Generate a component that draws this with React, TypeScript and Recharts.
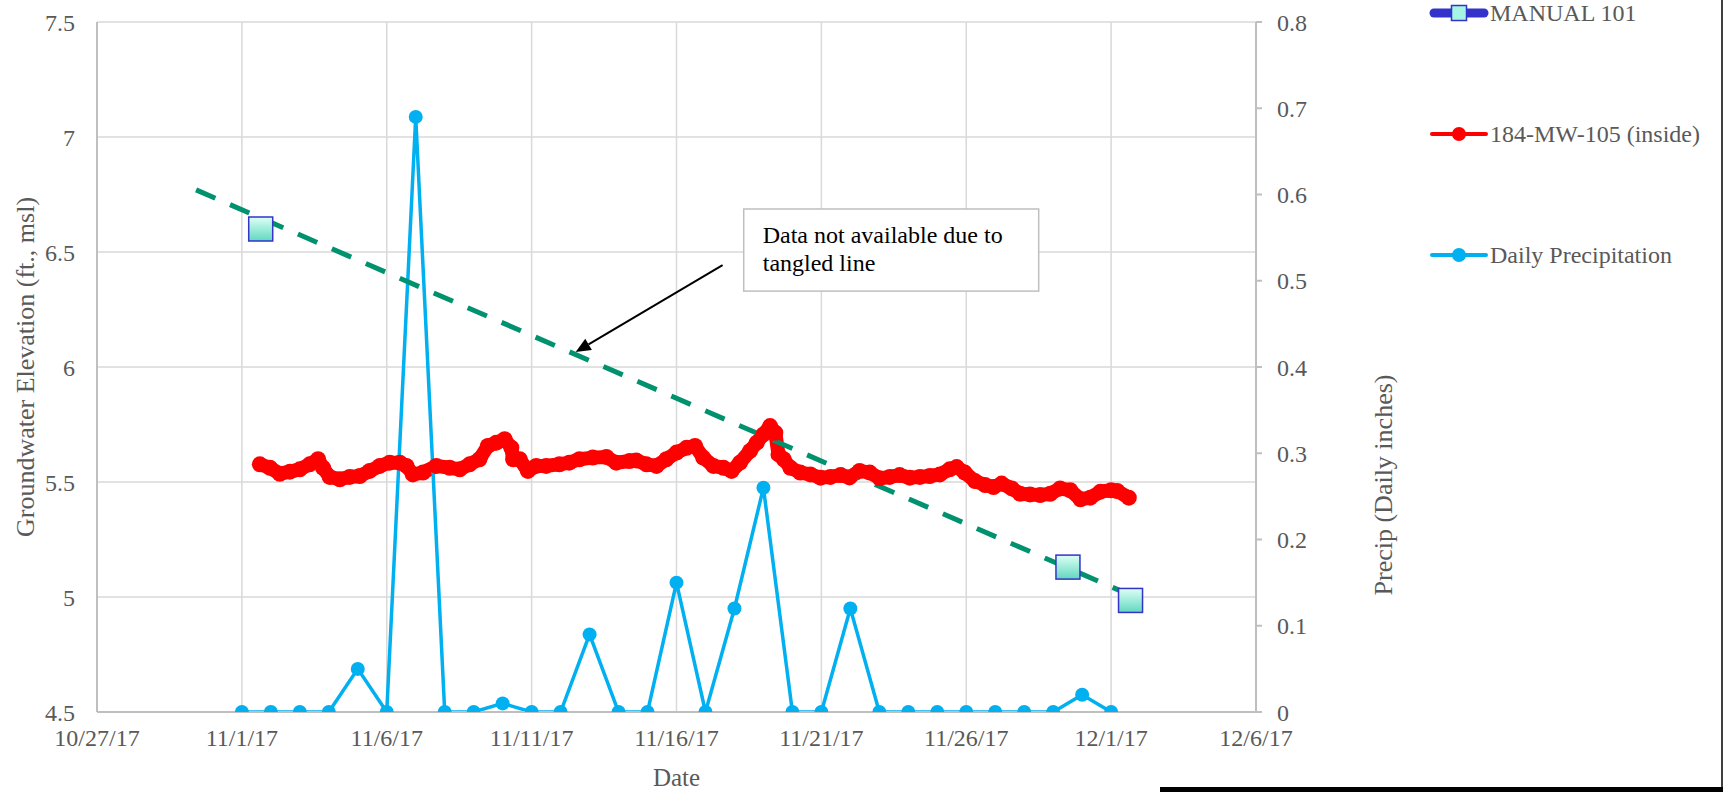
import React from 'react';
import {
  ComposedChart,
  Line,
  XAxis,
  YAxis,
  CartesianGrid,
  Legend,
  ReferenceLine,
  ReferenceArea,
} from 'recharts';

// ---------- data ----------
// x values are days since 10/27/17
const xTickDays = [0, 5, 10, 15, 20, 25, 30, 35, 40];
const xTickLabels = ['10/27/17', '11/1/17', '11/6/17', '11/11/17', '11/16/17', '11/21/17', '11/26/17', '12/1/17', '12/6/17'];
const leftTicks = [4.5, 5, 5.5, 6, 6.5, 7, 7.5];
const leftTickLabels = ['4.5', '5', '5.5', '6', '6.5', '7', '7.5'];
const rightTicks = [0, 0.1, 0.2, 0.3, 0.4, 0.5, 0.6, 0.7, 0.8];
const rightTickLabels = ['0', '0.1', '0.2', '0.3', '0.4', '0.5', '0.6', '0.7', '0.8'];

const mw105Day = [
  5.62, 5.97, 6.31, 6.66, 7.0, 7.34, 7.63, 7.8, 8.03, 8.38, 8.72, 9.07, 9.41, 9.76, 10.1, 10.45, 10.68, 10.9,
  11.25, 11.71, 12.17, 12.52, 12.86, 13.2, 13.49, 13.78, 14.07, 14.3, 14.36, 14.59, 14.87, 15.16, 15.5,
  15.96, 16.3, 16.65, 17.11, 17.58, 17.92, 18.38, 18.61, 18.96, 19.31, 19.65, 20.0, 20.35, 20.64, 20.92,
  21.27, 21.62, 21.9, 22.19, 22.54, 22.77, 23.0, 23.23, 23.41, 23.52, 23.7, 23.93, 24.27, 24.62, 24.97,
  25.31, 25.66, 25.97, 26.32, 26.67, 27.01, 27.36, 27.7, 28.05, 28.4, 28.74, 29.09, 29.43, 29.67, 29.95,
  30.3, 30.65, 30.94, 31.22, 31.57, 31.86, 32.2, 32.55, 32.9, 33.24, 33.59, 33.94, 34.28, 34.63, 35.0,
  35.21, 35.61,
];
const mw105Elev = [
  5.577, 5.562, 5.536, 5.545, 5.555, 5.577, 5.599, 5.562, 5.522, 5.512, 5.522, 5.526, 5.548, 5.57, 5.584, 5.584, 5.57, 5.533,
  5.541, 5.57, 5.562, 5.555, 5.577, 5.599, 5.657, 5.671, 5.686, 5.649, 5.599, 5.599, 5.548, 5.57, 5.57,
  5.577, 5.584, 5.599, 5.606, 5.609, 5.584, 5.591, 5.594, 5.577, 5.57, 5.599, 5.628, 5.649, 5.657, 5.606,
  5.57, 5.562, 5.548, 5.584, 5.635, 5.671, 5.707, 5.743, 5.714, 5.62, 5.599, 5.562, 5.541, 5.533, 5.519,
  5.522, 5.53, 5.52, 5.548, 5.541, 5.516, 5.522, 5.53, 5.519, 5.522, 5.526, 5.533, 5.555, 5.565, 5.541,
  5.504, 5.487, 5.478, 5.493, 5.472, 5.449, 5.446, 5.443, 5.449, 5.472, 5.464, 5.425, 5.432, 5.458, 5.464,
  5.461, 5.432,
];

const precipDay = [
  5, 6, 7, 8, 9, 10, 11, 12, 13, 14, 15, 16, 17, 18, 19, 20, 21, 22, 23, 24, 25, 26, 27, 28, 29, 30, 31, 32, 33, 34, 35,
];
const precipInches = [
  0, 0, 0, 0, 0.05, 0, 0.69, 0, 0, 0.01, 0, 0, 0.09, 0, 0, 0.15, 0, 0.12, 0.26, 0, 0, 0.12, 0, 0, 0, 0, 0, 0, 0, 0.02, 0,
];

const manualDay = [5.65, 33.51, 35.67];
const manualElev = [6.6, 5.13, 4.985];

const trendDay = [3.42, 35.45];
const trendElev = [6.77, 5.02];

const noteLines = ['Data not available due to', 'tangled line'];

const mw105Data = mw105Day.map((d, i) => ({ day: d, elev: mw105Elev[i] }));
const precipData = precipDay.map((d, i) => ({ day: d, precip: precipInches[i] }));
const manualData = manualDay.map((d, i) => ({ day: d, manual: manualElev[i] }));
const trendData = trendDay.map((d, i) => ({ day: d, trend: trendElev[i] }));

// ---------- styles ----------
const FONT = "'Liberation Serif', 'Times New Roman', serif";
const TEXT_GRAY = '#595959';
const GRID = '#D9D9D9';
const AXIS = '#BFBFBF';
const RED = '#FF0000';
const BLUE = '#00B0F0';
const MANUAL_BLUE = '#3333CC';
const GREEN = '#00926F';

const W = 1723;
const H = 792;
const PLOT_LEFT = 97;
const PLOT_RIGHT = 1256;
const PLOT_TOP = 22;
const PLOT_BOTTOM = 712;

const tickStyle = { fill: TEXT_GRAY, fontSize: 24, fontFamily: FONT };

const ManualDot = (p: any) => {
  const { cx, cy, index } = p;
  if (cx == null || cy == null) return <g key={`m${index}`} />;
  return (
    <rect
      key={`m${index}`}
      x={cx - 12}
      y={cy - 12}
      width={24}
      height={24}
      fill="url(#manualFill) #9FF0DF"
      stroke={MANUAL_BLUE}
      strokeWidth={1.5}
    />
  );
};

const ArrowShape = (p: any) => {
  const { x1, y1, x2, y2 } = p;
  if ([x1, y1, x2, y2].some((v) => v == null || isNaN(v))) return <g />;
  const ang = Math.atan2(y2 - y1, x2 - x1);
  const len = 15;
  const half = 6.5;
  const bx = x2 - len * Math.cos(ang);
  const by = y2 - len * Math.sin(ang);
  const px = -Math.sin(ang);
  const py = Math.cos(ang);
  return (
    <g>
      <line x1={x1} y1={y1} x2={bx} y2={by} stroke="#000" strokeWidth={2} />
      <polygon
        points={`${x2},${y2} ${bx + px * half},${by + py * half} ${bx - px * half},${by - py * half}`}
        fill="#000"
      />
    </g>
  );
};

const NoteBox = (p: any) => {
  const { x, y, width, height } = p;
  if (x == null) return <g />;
  return (
    <g>
      <rect x={x} y={y} width={width} height={height} fill="#FFFFFF" stroke={AXIS} strokeWidth={1.5} />
      {noteLines.map((t, i) => (
        <text key={t} x={x + 19} y={y + 34 + i * 28.5} fontSize={24} fontFamily={FONT} fill="#000">
          {t}
        </text>
      ))}
    </g>
  );
};

const legendRows = [
  { name: 'MANUAL 101', kind: 'manual', cy: 13 },
  { name: '184-MW-105 (inside)', kind: 'red', cy: 134 },
  { name: 'Daily Precipitation', kind: 'blue', cy: 255 },
];

const LegendContent = () => (
  <div style={{ position: 'relative', width: 295, height: 280 }}>
    {legendRows.map((r) => (
      <div
        key={r.name}
        style={{
          position: 'absolute',
          left: 0,
          top: r.cy - 15,
          height: 30,
          display: 'flex',
          alignItems: 'center',
          whiteSpace: 'nowrap',
        }}
      >
        <svg width={62} height={30} style={{ display: 'block' }}>
          {r.kind === 'manual' ? (
            <g>
              <line x1={6} y1={15} x2={56} y2={15} stroke={MANUAL_BLUE} strokeWidth={9} strokeLinecap="round" />
              <rect x={23.5} y={7.5} width={15} height={15} fill="#A6F5E4" stroke={MANUAL_BLUE} strokeWidth={1.5} />
            </g>
          ) : (
            <g>
              <line
                x1={4}
                y1={15}
                x2={58}
                y2={15}
                stroke={r.kind === 'red' ? RED : BLUE}
                strokeWidth={4}
                strokeLinecap="round"
              />
              <circle cx={31} cy={15} r={7} fill={r.kind === 'red' ? RED : BLUE} />
            </g>
          )}
        </svg>
        <span style={{ fontFamily: FONT, fontSize: 24, color: TEXT_GRAY, lineHeight: '30px' }}>{r.name}</span>
      </div>
    ))}
  </div>
);

export default function App() {
  return (
    <div
      style={{
        position: 'absolute',
        left: 0,
        top: 0,
        width: W,
        height: H,
        background: '#FFFFFF',
        overflow: 'hidden',
      }}
    >
      <ComposedChart
        width={W}
        height={H}
        margin={{ top: PLOT_TOP, right: W - PLOT_RIGHT - 100, bottom: H - PLOT_BOTTOM - 50, left: 0 }}
      >
        <defs>
          <linearGradient id="manualFill" x1="0" y1="0" x2="0" y2="1">
            <stop offset="0%" stopColor="#DDFFF7" />
            <stop offset="100%" stopColor="#62D8BE" />
          </linearGradient>
        </defs>
        <CartesianGrid stroke={GRID} strokeWidth={1.5} />
        <XAxis
          type="number"
          dataKey="day"
          domain={[0, 40]}
          ticks={xTickDays}
          interval={0}
          allowDataOverflow
          tickFormatter={(v: number) => xTickLabels[xTickDays.indexOf(v)] ?? ''}
          axisLine={{ stroke: AXIS, strokeWidth: 2 }}
          tickLine={false}
          tickSize={6}
          tickMargin={11}
          tick={tickStyle}
          height={50}
          label={{
            content: () => (
              <text x={(PLOT_LEFT + PLOT_RIGHT) / 2} y={786} textAnchor="middle" fontSize={25} fontFamily={FONT} fill={TEXT_GRAY}>
                Date
              </text>
            ),
          }}
        />
        <YAxis
          type="number"
          domain={[4.5, 7.5]}
          ticks={leftTicks}
          interval={0}
          allowDataOverflow
          tickFormatter={(v: number) => leftTickLabels[leftTicks.indexOf(v)] ?? String(v)}
          axisLine={{ stroke: AXIS, strokeWidth: 2 }}
          tickLine={false}
          tickSize={6}
          tickMargin={16}
          tick={tickStyle}
          width={PLOT_LEFT}
          label={{
            content: () => (
              <text
                x={25}
                y={(PLOT_TOP + PLOT_BOTTOM) / 2}
                transform={`rotate(-90, 25, ${(PLOT_TOP + PLOT_BOTTOM) / 2})`}
                textAnchor="middle"
                dominantBaseline="central"
                fontSize={26}
                fontFamily={FONT}
                fill={TEXT_GRAY}
              >
                Groundwater Elevation (ft., msl)
              </text>
            ),
          }}
        />
        <YAxis
          yAxisId="right"
          orientation="right"
          type="number"
          domain={[0, 0.8]}
          ticks={rightTicks}
          interval={0}
          allowDataOverflow
          tickFormatter={(v: number) => {
            const i = rightTicks.findIndex((t) => Math.abs(t - v) < 1e-9);
            return i >= 0 ? rightTickLabels[i] : String(v);
          }}
          axisLine={{ stroke: AXIS, strokeWidth: 2 }}
          tickLine={{ stroke: AXIS, strokeWidth: 2 }}
          tickSize={6}
          tickMargin={15}
          tick={tickStyle}
          width={100}
          label={{
            content: () => (
              <text
                x={1383}
                y={485}
                transform={`rotate(-90, 1383, 485)`}
                textAnchor="middle"
                dominantBaseline="central"
                fontSize={26}
                fontFamily={FONT}
                fill={TEXT_GRAY}
              >
                Precip (Daily inches)
              </text>
            ),
          }}
        />
        <Legend
          layout="vertical"
          align="center"
          verticalAlign="middle"
          content={() => <LegendContent />}
          wrapperStyle={{ left: 1428, top: 0, width: 295, height: 280 }}
        />
        <Line
          data={mw105Data}
          dataKey="elev"
          name="184-MW-105 (inside)"
          stroke={RED}
          strokeWidth={14}
          strokeLinejoin="round"
          strokeLinecap="round"
          dot={{ r: 8, fill: RED, stroke: RED, strokeWidth: 0 }}
          activeDot={false}
          isAnimationActive={false}
        />
        <Line
          data={precipData}
          dataKey="precip"
          yAxisId="right"
          name="Daily Precipitation"
          stroke={BLUE}
          strokeWidth={3.5}
          dot={{ r: 7, fill: BLUE, stroke: BLUE, strokeWidth: 0 }}
          activeDot={false}
          isAnimationActive={false}
        />
        <Line
          data={trendData}
          dataKey="trend"
          stroke={GREEN}
          strokeWidth={5}
          strokeDasharray="21 16"
          dot={false}
          activeDot={false}
          isAnimationActive={false}
        />
        <Line
          data={manualData}
          dataKey="manual"
          name="MANUAL 101"
          stroke="none"
          dot={(p: any) => <ManualDot key={`md${p.index}`} {...p} />}
          activeDot={false}
          isAnimationActive={false}
        />
        <ReferenceArea x1={22.32} x2={32.5} y1={6.33} y2={6.687} ifOverflow="visible" shape={<NoteBox />} />
        <ReferenceLine
          segment={[
            { x: 21.59, y: 6.443 },
            { x: 16.52, y: 6.065 },
          ]}
          ifOverflow="visible"
          shape={(p: any) => <ArrowShape {...p} />}
        />
      </ComposedChart>
      <div style={{ position: 'absolute', right: 0, top: 0, width: 2, height: H, background: '#404040' }} />
      <div style={{ position: 'absolute', left: 1160, bottom: 0, width: W - 1160, height: 5, background: '#000' }} />
    </div>
  );
}
